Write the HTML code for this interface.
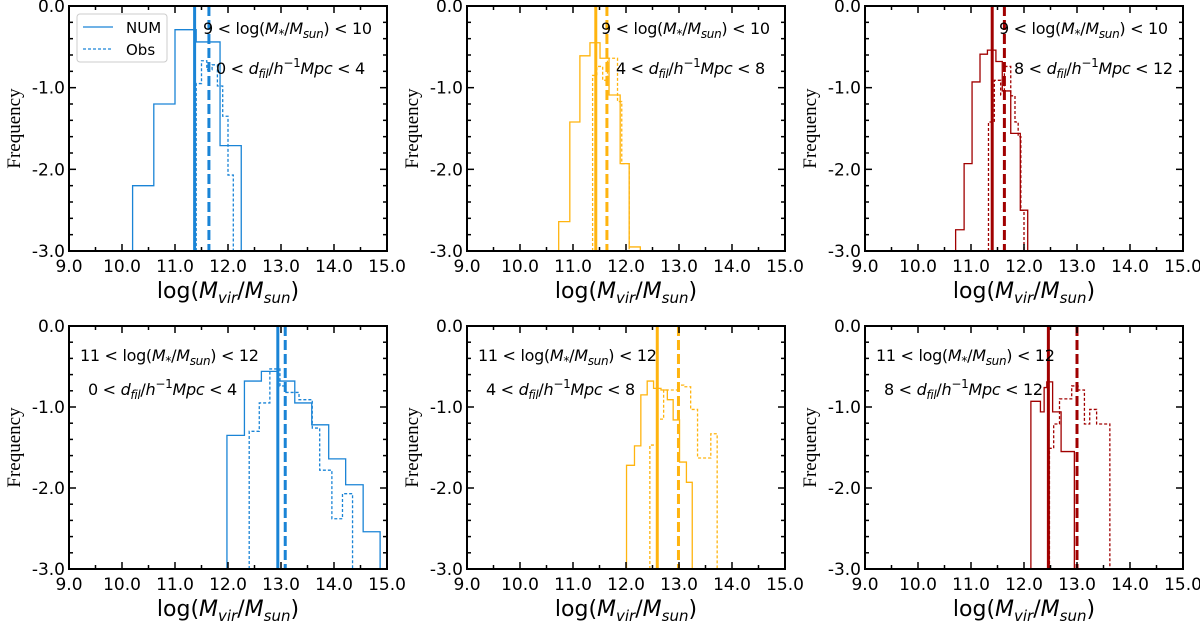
<!DOCTYPE html>
<html><head><meta charset="utf-8"><style>
body{margin:0;background:#fff;}
svg{display:block;font-family:"DejaVu Sans","Liberation Sans",sans-serif;}
</style></head><body>
<svg id="c" width="1200" height="628" viewBox="0 0 1200 628"></svg>
<script>
// ---- data ----
const panelColors = ["#1a84d6","#ffb40f","#a00000"];
const massLabels = ["9 < log(M*/Msun) < 10","11 < log(M*/Msun) < 12"];
const xTicks = [9,10,11,12,13,14,15];
const yTicks = [0,-1,-2,-3];
// NUM hist edges and values per panel (row-major)
const numEdges = [
 [10.2,10.6,11.0,11.4,11.85,12.25],
 [10.73,10.94,11.13,11.32,11.51,11.68,11.89,12.06,12.27],
 [10.71,10.87,11.02,11.17,11.31,11.47,11.59,11.75,11.93,12.07],
 [11.98,12.31,12.63,12.94,13.26,13.58,13.9,14.22,14.55,14.87],
 [12.01,12.16,12.28,12.40,12.52,12.66,12.78,12.89,13.01,13.14,13.25],
 [12.13,12.31,12.38,12.43,12.54,12.70,12.95]
];
const numVals = [
 [-2.2,-1.2,-0.29,-0.44,-1.71],
 [-2.64,-1.42,-0.61,-0.45,-0.64,-1.09,-1.93,-2.95],
 [-2.74,-1.93,-0.93,-0.59,-0.54,-0.68,-1.04,-1.56,-2.5],
 [-1.35,-0.68,-0.56,-0.68,-0.95,-1.22,-1.64,-1.96,-2.54],
 [-1.72,-1.48,-0.85,-0.68,-0.77,-0.79,-0.91,-1.16,-1.68,-1.93],
 [-0.93,-1.06,-0.76,-0.69,-1.06,-1.55]
];
const obsEdges = [
 [11.4,11.5,11.6,11.7,11.8,11.9,12.0,12.1],
 [11.37,11.45,11.56,11.65,11.84,11.92,12.06],
 [11.33,11.44,11.56,11.63,11.75,11.83,11.89,11.94,12.0],
 [12.40,12.59,12.79,12.98,13.09,13.34,13.59,13.73,13.96,14.16,14.35],
 [12.45,12.60,12.71,12.98,13.09,13.22,13.35,13.47,13.6,13.72],
 [12.48,12.56,12.67,12.90,13.02,13.14,13.24,13.37,13.62]
];
const obsVals = [
 [-0.95,-0.67,-0.78,-0.72,-0.98,-1.35,-2.07],
 [-0.85,-0.74,-0.91,-0.64,-1.17,-1.93],
 [-1.42,-0.91,-1.09,-0.74,-1.1,-1.42,-1.6,-2.5],
 [-1.3,-0.95,-0.53,-0.74,-0.82,-0.91,-1.26,-1.78,-2.38,-2.07],
 [-1.47,-1.15,-0.79,-0.73,-0.75,-1.03,-1.63,-1.63,-1.33],
 [-1.51,-1.21,-0.9,-0.74,-0.79,-1.21,-1.03,-1.21]
];
const numMedian = [11.37,11.43,11.4,12.94,12.59,12.46];
const obsMedian = [11.64,11.64,11.63,13.08,12.99,13.0];
const dfilLo = [0,4,8];
const dfilHi = [4,8,12];

// ---- drawing ----
const NS="http://www.w3.org/2000/svg";
const svg=document.getElementById('c');
function el(t,a,p){const e=document.createElementNS(NS,t);for(const k in a)e.setAttribute(k,a[k]);(p||svg).appendChild(e);return e;}
const PX=[69,467,865], PW=318, PY=[6,326], PH=[245,243];

for(let r=0;r<2;r++)for(let c=0;c<3;c++){
 const i=r*3+c, x0=PX[c], y0=PY[r], h=PH[r], col=panelColors[c];
 const xs=v=>x0+(v-9)/6*PW, ys=v=>y0+(-v)/3*h;
 const g=el('g',{});
 
 
 function step(edges,vals,dash,name){
  let d='M'+xs(edges[0])+','+ys(-3);
  for(let k=0;k<vals.length;k++){d+='L'+xs(edges[k])+','+ys(vals[k])+'L'+xs(edges[k+1])+','+ys(vals[k]);}
  d+='L'+xs(edges[vals.length])+','+ys(-3);
  const p=el('path',{d:d,fill:'none',stroke:col,'stroke-width':1.3,'stroke-dasharray':dash||'none'},g);
  
  
 }
 step(numEdges[i],numVals[i],null,'num-histogram');
 step(obsEdges[i],obsVals[i],'3,2','obs-histogram');
 const l1=el('line',{x1:xs(numMedian[i]),x2:xs(numMedian[i]),y1:y0,y2:y0+h,stroke:col,'stroke-width':3},g);
 
 
 const l2=el('line',{x1:xs(obsMedian[i]),x2:xs(obsMedian[i]),y1:y0,y2:y0+h,stroke:col,'stroke-width':3,'stroke-dasharray':'10,4'},g);
 
 
 // ticks
 for(let v=9;v<=15.001;v+=0.5){const X=xs(v),L=(Math.abs(v-Math.round(v))<1e-6)?7:4;
  el('line',{x1:X,x2:X,y1:y0+h,y2:y0+h-L,stroke:'#000','stroke-width':1.5},g);
  el('line',{x1:X,x2:X,y1:y0,y2:y0+L,stroke:'#000','stroke-width':1.5},g);}
 for(let k=0;k<=15;k++){const v=-k*0.2,Y=ys(v),L=(k%5==0)?7:4;
  el('line',{x1:x0,x2:x0+L,y1:Y,y2:Y,stroke:'#000','stroke-width':1.5},g);
  el('line',{x1:x0+PW,x2:x0+PW-L,y1:Y,y2:Y,stroke:'#000','stroke-width':1.5},g);}
 el('rect',{x:x0,y:y0,width:PW,height:h,fill:'none',stroke:'#000','stroke-width':2},g);
 xTicks.forEach(v=>{const t=el('text',{x:xs(v),y:y0+h+21,'font-size':17,'text-anchor':'middle'},g);t.textContent=v.toFixed(1);
  });
 yTicks.forEach(v=>{const t=el('text',{x:x0-4,y:ys(v)+6,'font-size':17,'text-anchor':'end'},g);t.textContent=v.toFixed(1);
  });
 const xt=el('text',{x:x0+PW/2,y:y0+h+47,'font-size':22,'text-anchor':'middle'},g);
 xt.innerHTML='log(<tspan font-style="italic">M</tspan><tspan font-style="italic" font-size="15" dy="5">vir</tspan><tspan dy="-5">/</tspan><tspan font-style="italic">M</tspan><tspan font-style="italic" font-size="15" dy="5">sun</tspan><tspan dy="-5">)</tspan>';
 
 const yt=el('text',{x:0,y:0,'font-size':19,'text-anchor':'middle','font-family':'Liberation Serif, serif',transform:'translate('+(x0-49)+','+(y0+h/2)+') rotate(-90)'},g);
 yt.textContent='Frequency';
 
 // annotations
 const lo=r==0?9:11, hi=r==0?10:12;
 const ax=r==0?x0+134:x0+11, ay=r==0?y0+28:y0+35;
 const a1=el('text',{x:ax,y:ay,'font-size':16,'letter-spacing':'-0.3'},g);
 a1.innerHTML=lo+' &lt; log(<tspan font-style="italic">M</tspan><tspan font-style="italic" font-size="12" dy="4">*</tspan><tspan dy="-4">/</tspan><tspan font-style="italic">M</tspan><tspan font-style="italic" font-size="12" dy="4">sun</tspan><tspan dy="-4">) &lt; '+hi+'</tspan>';
 
 const bx=r==0?x0+(c==0?147:149):x0+19, by=r==0?y0+68:y0+69;
 const a2=el('text',{x:bx,y:by,'font-size':16,'letter-spacing':'-0.3'},g);
 a2.innerHTML=dfilLo[c]+' &lt; <tspan font-style="italic">d</tspan><tspan font-style="italic" font-size="12" dy="4">fil</tspan><tspan dy="-4">/</tspan><tspan font-style="italic">h</tspan><tspan font-size="12" dy="-7">−1</tspan><tspan font-style="italic" dy="7">Mpc</tspan> &lt; '+dfilHi[c];
 
}
// legend
const lg=el('g',{});


el('rect',{x:77,y:14,width:90,height:48,rx:3,fill:'#fff',stroke:'#ccc','stroke-width':1},lg);
el('line',{x1:83,x2:113,y1:27,y2:27,stroke:panelColors[0],'stroke-width':1.3},lg);
el('line',{x1:83,x2:113,y1:49,y2:49,stroke:panelColors[0],'stroke-width':1.3,'stroke-dasharray':'3,2'},lg);
const t1=el('text',{x:126,y:33,'font-size':15},lg);t1.textContent='NUM';

const t2=el('text',{x:126,y:55,'font-size':15},lg);t2.textContent='Obs';

</script>
</body></html>
